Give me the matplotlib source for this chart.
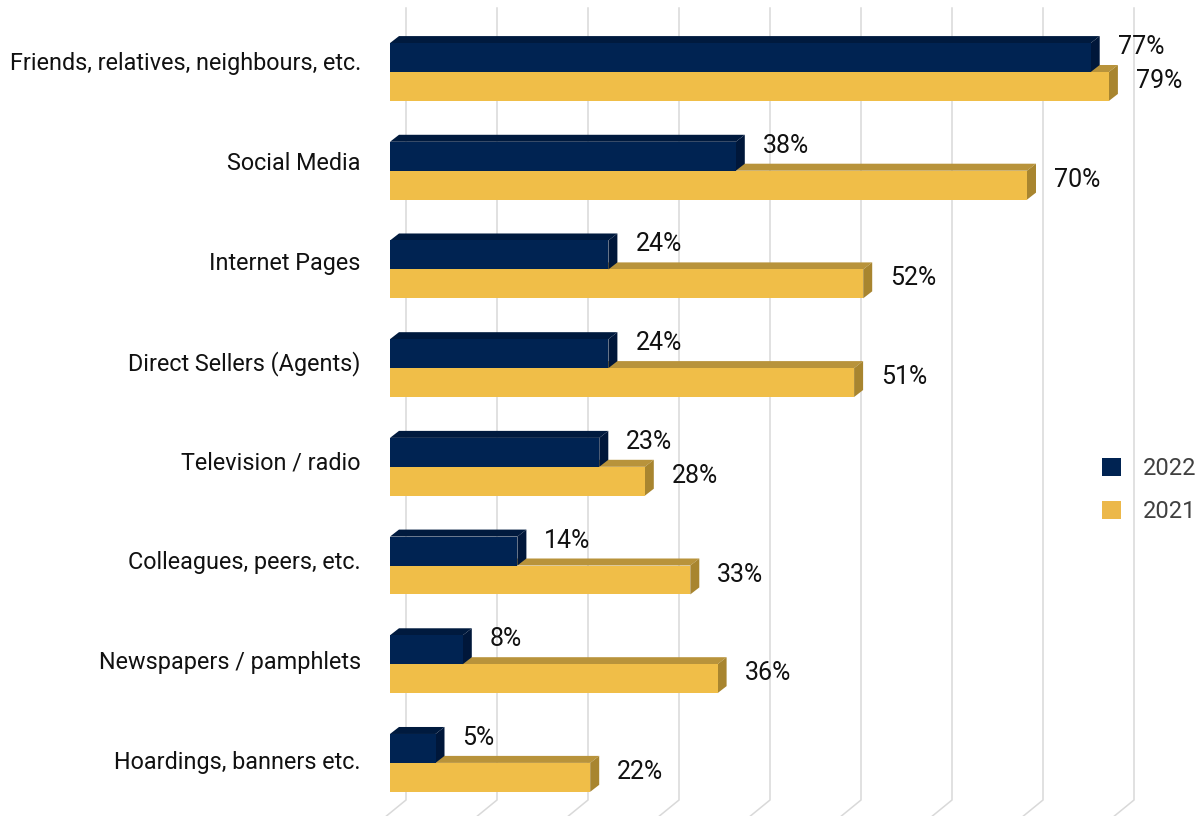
import matplotlib
matplotlib.use("Agg")
import matplotlib.pyplot as plt
from matplotlib.patches import Polygon, Patch

# Sources of information, top to bottom
categories = [
    "Friends, relatives, neighbours, etc.",
    "Social Media",
    "Internet Pages",
    "Direct Sellers (Agents)",
    "Television / radio",
    "Colleagues, peers, etc.",
    "Newspapers / pamphlets",
    "Hoardings, banners etc.",
]
values_2022 = [77, 38, 24, 24, 23, 14, 8, 5]
values_2021 = [79, 70, 52, 51, 28, 33, 36, 22]
series_labels = ["2022", "2021"]
grid_ticks = [0, 10, 20, 30, 40, 50, 60, 70, 80]

NAVY = ("#002352", "#001a3e", "#00173a")      # front, top, side
GOLD = ("#f0be48", "#b8933b", "#a8852f")

FONT = "Roboto"
FS_CAT = 16.8
FS_VAL = 18
FS_LEG = 17
plt.rcParams["font.family"] = [FONT, "DejaVu Sans"]

W, H = 1203, 816
fig = plt.figure(figsize=(W / 100, H / 100), dpi=100)
ax = fig.add_axes([390 / W, 0, (W - 390) / W, 1])

px_per_x = 9.1          # pixels per percentage point
px_per_y = 98.7         # pixels per category row
ax.set_xlim(0, (W - 390) / px_per_x)
ax.set_ylim((H - 72) / px_per_y, -72 / px_per_y)

bar_h = 0.293
dx = 9 / px_per_x        # depth of the 3D extrusion
dy = 7 / px_per_y

# Back-wall gridlines with the floor edge slanting toward the viewer
wall_dx = 16 / px_per_x
y_top = (8 - 72) / px_per_y
y_floor = (800 - 72) / px_per_y
y_bottom = (H - 72) / px_per_y
for t in grid_ticks:
    gx = t + wall_dx
    ax.plot([gx, gx, gx - 22 / px_per_x], [y_top, y_floor, y_bottom + 0.02],
            color="#d9d9d9", lw=1.1, zorder=0, clip_on=False,
            solid_joinstyle="miter")


def bar3d(y0, y1, length, colors, z):
    front, top, side = colors
    ax.barh((y0 + y1) / 2, length, height=y1 - y0, left=0, color=front,
            edgecolor="none", zorder=z + 0.2)
    ax.add_patch(Polygon([(0, y0), (dx, y0 - dy), (length + dx, y0 - dy), (length, y0)],
                         closed=True, facecolor=top, edgecolor="none", zorder=z))
    ax.add_patch(Polygon([(length, y0), (length + dx, y0 - dy), (length + dx, y1 - dy), (length, y1)],
                         closed=True, facecolor=side, edgecolor="none", zorder=z + 0.1))


for i, (v22, v21) in enumerate(zip(values_2022, values_2021)):
    base = 2 * i
    bar3d(i, i + bar_h, v21, GOLD, 1 + base)
    bar3d(i - bar_h, i, v22, NAVY, 2 + base)
    ax.text(v22 + 27 / px_per_x, i - 25 / px_per_y, f"{v22}%", fontsize=FS_VAL,
            color="#111111", ha="left", va="center", zorder=30)
    ax.text(v21 + 27 / px_per_x, i + 9 / px_per_y, f"{v21}%", fontsize=FS_VAL,
            color="#111111", ha="left", va="center", zorder=30)

# Category labels
label_pos = [-11 / px_per_y + i * 99.86 / px_per_y for i in range(len(categories))]
ax.set_yticks(label_pos)
ax.set_yticklabels(categories, fontsize=FS_CAT, color="#111111")
ax.tick_params(axis="y", length=0, pad=21)
ax.set_xticks([])
for s in ax.spines.values():
    s.set_visible(False)

handles = [Patch(facecolor=NAVY[0], edgecolor="none"),
           Patch(facecolor="#ecb84a", edgecolor="none")]
leg = fig.legend(handles, series_labels, loc="upper left",
                 bbox_to_anchor=(1090 / W, 1 - 445 / H), frameon=False,
                 fontsize=FS_LEG, handlelength=0.805, handleheight=0.805,
                 handletextpad=0.93, labelspacing=0.85, borderpad=0)
for t in leg.get_texts():
    t.set_color("#404040")

fig.savefig("out.png", dpi=100)
